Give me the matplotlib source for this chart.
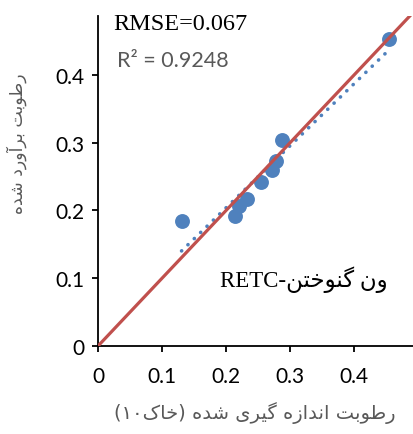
import matplotlib
matplotlib.use('Agg')
import matplotlib.pyplot as plt
import numpy as np

# measured vs. estimated soil moisture (soil 10), van Genuchten / RETC fit
measured = [0.1305, 0.214, 0.221, 0.2325, 0.254, 0.272, 0.278, 0.287, 0.455]
estimated = [0.185, 0.192, 0.206, 0.217, 0.2425, 0.260, 0.2735, 0.3045, 0.453]

ticks = [0, 0.1, 0.2, 0.3, 0.4]
tick_labels = ['0', '0.1', '0.2', '0.3', '0.4']

rmse_text = 'RMSE=0.067'
r2_text = 'R\u00b2 = 0.9248'

# Persian strings are written in visual order with presentation forms,
# since matplotlib does no Arabic shaping or bidi reordering itself
model_text = 'RETC-' + '\uFEE6\uFE98\uFEA7\uFEEE\uFEE8\uFB94' + ' ' + '\uFEE5\uFEED'
xlabel = ('(\u06F1\u06F0' + '\uFB8E\uFE8E\uFEA7' + ')' + ' '
          + '\uFEE9\uFEAA\uFEB7' + ' '
          + '\uFBFC\uFEAE\uFBFF\uFB94' + ' '
          + '\uFEE9\uFEAF\uFE8D\uFEAA\uFEE7\uFE8D' + ' '
          + '\uFE96\uFE91\uFEEE\uFEC3\uFEAD')
ylabel = ('\uFEE9\uFEAA\uFEB7' + ' '
          + '\uFEA9\uFEAD\uFEED\uFE81\uFEAE\uFE91' + ' '
          + '\uFE96\uFE91\uFEEE\uFEC3\uFEAD')

blue = '#4F81BD'
red = '#C0504D'
grey = '#595959'

fig = plt.figure(figsize=(4.13, 4.35), dpi=100)
ax = fig.add_axes([98/413, 1 - 347/435, 315/413, 330/435])

ax.scatter(measured, estimated, s=115, color=blue, linewidths=0, zorder=2)

# linear trendline through the points
slope, intercept = np.polyfit(measured, estimated, 1)
xt = np.array([min(measured), max(measured)])
ax.plot(xt, slope * xt + intercept, color=blue, lw=2.6,
        linestyle=(0, (0.05, 2.4)), dash_capstyle='round', zorder=3)

# 1:1 line
ax.plot([0, 0.5], [0, 0.5], color=red, lw=2.3, zorder=4)

ax.set_xlim(0, 0.492)
ax.set_ylim(0, 0.487)

ax.set_xticks(ticks)
ax.set_xticklabels(tick_labels)
ax.set_yticks(ticks)
ax.set_yticklabels(tick_labels)

for side in ['top', 'right']:
    ax.spines[side].set_visible(False)
for side in ['left', 'bottom']:
    ax.spines[side].set_linewidth(1.3)
    ax.spines[side].set_color('black')

ax.tick_params(axis='both', direction='out', length=4.5, width=1.3,
               labelsize=15, colors='black')
ax.tick_params(axis='x', pad=10)
ax.tick_params(axis='y', pad=5)
for lab in ax.get_xticklabels() + ax.get_yticklabels():
    lab.set_fontfamily('Lato')

ax.text(113/413, 1 - 25/435, rmse_text, transform=fig.transFigure,
        fontsize=17.5, family='Liberation Serif', color='black',
        ha='left', va='center')
ax.text(117/413, 1 - 61/435, r2_text, transform=fig.transFigure,
        fontsize=15.5, family='Lato', color=grey, ha='left', va='center')
ax.text(220/413, 1 - 287/435, model_text, transform=fig.transFigure,
        fontsize=16.5, family=['Liberation Serif', 'DejaVu Sans'],
        color='black', ha='left', va='baseline')

fig.text(255/413, 1 - 413/435, xlabel, fontsize=14, family='DejaVu Sans',
         color=grey, ha='center', va='center')
fig.text(17/413, 1 - 144/435, ylabel, fontsize=12.5, family='DejaVu Sans',
         color=grey, ha='center', va='center', rotation=90)

fig.savefig('out.png', dpi=100)
